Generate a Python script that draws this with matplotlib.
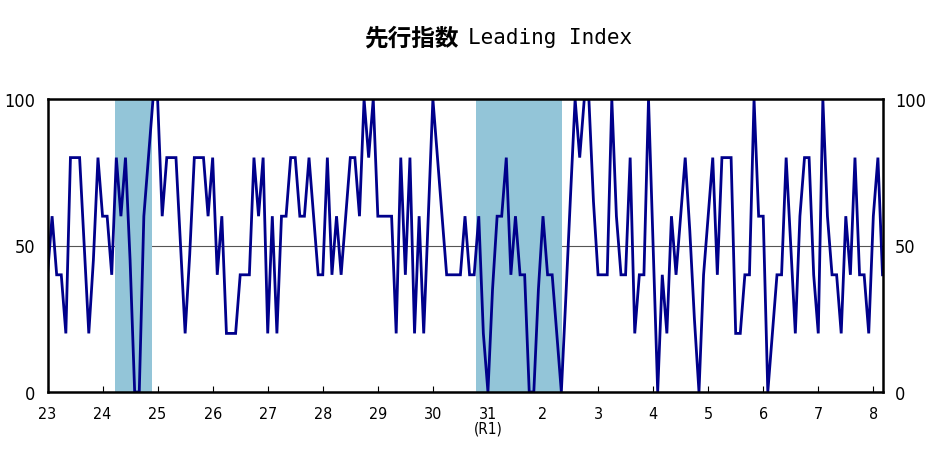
import matplotlib
matplotlib.use("Agg")
import matplotlib.pyplot as plt

plt.rcParams['font.family'] = ['Noto Sans CJK JP', 'DejaVu Sans']

# Monthly leading index DI, Jan 2011 (H23) onward
values = [
    40, 60, 40, 40, 20, 80, 80, 80, 50, 20, 45, 80,   # 2011
    60, 60, 40, 80, 60, 80, 45, 0, 0, 60, 80, 100,    # 2012
    100, 60, 80, 80, 80, 50, 20, 47, 80, 80, 80, 60,  # 2013
    80, 40, 60, 20, 20, 20, 40, 40, 40, 80, 60, 80,   # 2014
    20, 60, 20, 60, 60, 80, 80, 60, 60, 80, 60, 40,   # 2015
    40, 80, 40, 60, 40, 60, 80, 80, 60, 100, 80, 100, # 2016
    60, 60, 60, 60, 20, 80, 40, 80, 20, 60, 20, 60,   # 2017
    100, 80, 60, 40, 40, 40, 40, 60, 40, 40, 60, 20,  # 2018
    0, 35, 60, 60, 80, 40, 60, 40, 40, 0, 0, 35,      # 2019
    60, 40, 40, 20, 0, 33, 67, 100, 80, 100, 100, 65, # 2020
    40, 40, 40, 100, 60, 40, 40, 80, 20, 40, 40, 100, # 2021
    50, 0, 40, 20, 60, 40, 60, 80, 55, 25, 0, 40,     # 2022
    60, 80, 40, 80, 80, 80, 20, 20, 40, 40, 100, 60,  # 2023
    60, 0, 20, 40, 40, 80, 50, 20, 60, 80, 80, 40,    # 2024
    20, 100, 60, 40, 40, 20, 60, 40, 80, 40, 40, 20,  # 2025
    60, 80, 40,                                       # 2026
]
year_labels = ['23', '24', '25', '26', '27', '28', '29', '30', '31',
               '2', '3', '4', '5', '6', '7', '8']
recessions = [(14.7, 22.7), (93.4, 112.1)]  # month-index spans
title_jp = '先行指数'
title_en = 'Leading Index'

fig = plt.figure(figsize=(9.32, 4.64), dpi=100)
ax = fig.add_axes([47.5 / 932, 1 - 393 / 464, (882.5 - 47.5) / 932, 293 / 464])

months = list(range(len(values)))
ax.axhline(50, color='#555555', lw=0.8, zorder=1)
for a, b in recessions:
    ax.axvspan(a, b, color='#93C5D8', lw=0, zorder=2)
ax.plot(months, values, color='#00008B', lw=2.0, zorder=3, solid_joinstyle='miter')

ax.set_xlim(0, 182)
ax.set_ylim(0, 100)
for s in ax.spines.values():
    s.set_linewidth(1.8)
    s.set_zorder(4)

lab_font = dict(family='DejaVu Sans', stretch='condensed')
ax.set_xticks([12 * k for k in range(len(year_labels))])
ax.set_xticklabels(year_labels, fontsize=11.5, **lab_font)
ax.tick_params(axis='x', direction='in', length=4, width=0.8, pad=10)
ax.set_yticks([0, 50, 100])
ax.set_yticklabels(['0', '50', '100'], fontsize=13, **lab_font)
ax.tick_params(axis='y', length=0, pad=9, labelright=True, labelleft=True)

ax.text(8 * 12, -0.098, '(R1)', transform=ax.get_xaxis_transform(),
        ha='center', va='top', fontsize=11, **lab_font)

fig.text(459 / 932, 1 - 38 / 464, title_jp, ha='right', va='center',
         fontsize=17, fontweight='bold', family=['Noto Sans CJK JP'])
fig.text(468 / 932, 1 - 38 / 464, title_en, ha='left', va='center',
         fontsize=15, family=['DejaVu Sans Mono'])

fig.savefig('out.png', dpi=100)
